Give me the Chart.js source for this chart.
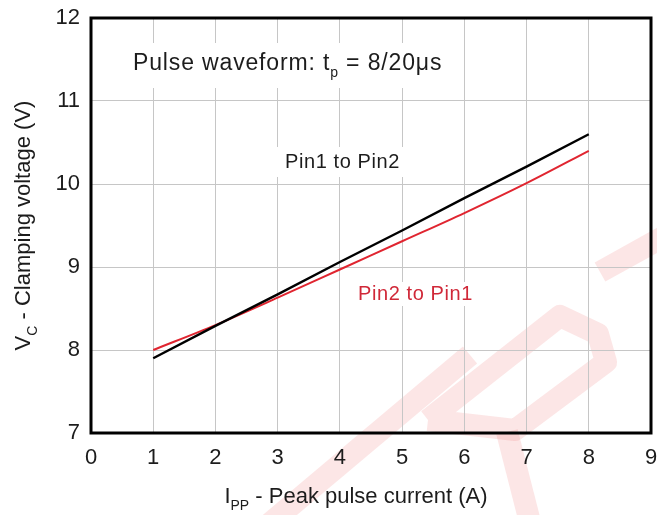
<!DOCTYPE html>
<html>
<head>
<meta charset="utf-8">
<script src="https://cdn.jsdelivr.net/npm/chart.js@4.4.1/dist/chart.umd.min.js"></script>
<style>
  html, body { margin: 0; padding: 0; background: #ffffff; }
  #wrap { width: 657px; height: 515px; }
</style>
</head>
<body>
<div id="wrap"><canvas id="c" width="657" height="515"></canvas></div>
<script>
// Peak pulse current (A) and clamping voltage (V) for both pin directions
const currentA = [1, 2, 3, 4, 5, 6, 7, 8];
const vcPin1ToPin2 = [7.9, 8.29, 8.67, 9.06, 9.44, 9.83, 10.21, 10.6];
const vcPin2ToPin1 = [8.0, 8.3, 8.63, 8.97, 9.31, 9.65, 10.01, 10.4];

const xRange = [0, 9];
const yRange = [7, 12];

const seriesNames = ['Pin1 to Pin2', 'Pin2 to Pin1'];
const seriesColors = ['#000000', '#e02530'];

const FONT = '"Liberation Sans", Arial, sans-serif';
const TEXT = '#1c1c1c';

function points(xs, ys) { return xs.map((x, i) => ({ x: x, y: ys[i] })); }

// Draw a run of text pieces, some of them set as subscripts
function setFont(ctx, p, size, spacing) {
  ctx.font = (p.sub ? Math.round(size * 0.62) : size) + 'px ' + FONT;
  ctx.letterSpacing = (spacing || 0) + 'px';
}
function richWidth(ctx, parts, size, spacing) {
  let w = 0;
  for (const p of parts) {
    setFont(ctx, p, size, spacing);
    w += ctx.measureText(p.t).width;
  }
  return w;
}
function drawRich(ctx, parts, x, y, size, color, spacing) {
  ctx.fillStyle = color;
  ctx.textBaseline = 'alphabetic';
  ctx.textAlign = 'left';
  let cx = x;
  for (const p of parts) {
    setFont(ctx, p, size, spacing);
    ctx.fillText(p.t, cx, y + (p.sub ? size * 0.3 : 0));
    cx += ctx.measureText(p.t).width;
  }
  ctx.letterSpacing = '0px';
}

// Faint background mark
const watermark = {
  id: 'watermark',
  beforeDraw(chart) {
    const ctx = chart.ctx;
    ctx.save();
    ctx.strokeStyle = 'rgba(230, 50, 50, 0.12)';
    ctx.lineWidth = 22;
    ctx.lineJoin = 'round';
    ctx.lineCap = 'butt';
    const strokes = [
      [[262, 530], [470, 355]],
      [[428, 420], [560, 316], [598, 334], [606, 362], [515, 430], [428, 420]],
      [[507, 432], [532, 530]],
      [[600, 272], [665, 236]]
    ];
    for (const s of strokes) {
      ctx.beginPath();
      ctx.moveTo(s[0][0], s[0][1]);
      for (let i = 1; i < s.length; i++) ctx.lineTo(s[i][0], s[i][1]);
      ctx.stroke();
    }
    ctx.restore();
  }
};

// Frame, in-plot notes and axis titles
const decor = {
  id: 'decor',
  afterDraw(chart) {
    const ctx = chart.ctx;
    const a = chart.chartArea;
    ctx.save();

    const notes = chart.options.plugins.decor.notes;
    for (const n of notes) {
      const w = richWidth(ctx, n.parts, n.size, n.spacing);
      ctx.fillStyle = '#ffffff';
      ctx.fillRect(n.x - n.pad[0], n.y - n.pad[1], w + n.pad[0] * 2, n.pad[1] + n.pad[2]);
      drawRich(ctx, n.parts, n.x, n.y, n.size, n.color, n.spacing);
    }

    // plot frame
    ctx.strokeStyle = '#000000';
    ctx.lineWidth = 3;
    ctx.strokeRect(a.left, a.top, a.right - a.left, a.bottom - a.top);

    // x axis title
    const xt = [{ t: 'I' }, { t: 'PP', sub: true }, { t: ' - Peak pulse current (A)' }];
    const xw = richWidth(ctx, xt, 22, 0);
    drawRich(ctx, xt, 356 - xw / 2, 503, 22, TEXT, 0);

    // y axis title, rotated
    const yt = [{ t: 'V' }, { t: 'C', sub: true }, { t: ' - Clamping voltage (V)' }];
    const yw = richWidth(ctx, yt, 22, 0);
    ctx.translate(30, (a.top + a.bottom) / 2);
    ctx.rotate(-Math.PI / 2);
    drawRich(ctx, yt, -yw / 2, 0, 22, TEXT, 0);

    ctx.restore();
  }
};

new Chart(document.getElementById('c'), {
  type: 'line',
  data: {
    datasets: [
      {
        label: seriesNames[0],
        data: points(currentA, vcPin1ToPin2),
        borderColor: seriesColors[0],
        borderWidth: 2.4,
        pointRadius: 0,
        tension: 0,
        fill: false
      },
      {
        label: seriesNames[1],
        data: points(currentA, vcPin2ToPin1),
        borderColor: seriesColors[1],
        borderWidth: 2,
        pointRadius: 0,
        cubicInterpolationMode: 'monotone',
        fill: false
      }
    ]
  },
  options: {
    responsive: false,
    animation: false,
    devicePixelRatio: 1,
    layout: { padding: { left: 0, top: 18, right: 6, bottom: 0 } },
    plugins: {
      legend: { display: false },
      tooltip: { enabled: false },
      decor: {
        notes: [
          { parts: [{ t: 'Pulse waveform: t' }, { t: 'p', sub: true }, { t: ' = 8/20μs' }],
            x: 133, y: 70, size: 23, spacing: 0.85, color: TEXT, pad: [14, 27, 18] },
          { parts: [{ t: seriesNames[0] }], x: 285, y: 168, size: 20, spacing: 0.6, color: TEXT, pad: [10, 21, 9] },
          { parts: [{ t: seriesNames[1] }], x: 358, y: 300, size: 20, spacing: 0.6, color: '#d02838', pad: [6, 18, 6] }
        ]
      }
    },
    scales: {
      x: {
        type: 'linear',
        min: xRange[0],
        max: xRange[1],
        afterFit(s) { s.height = 82; s.paddingLeft = 0; s.paddingRight = 6; },
        ticks: { stepSize: 1, color: TEXT, font: { family: FONT, size: 22 }, padding: 12, maxRotation: 0 },
        grid: { color: '#c6c6c6', lineWidth: 1, drawTicks: false },
        border: { display: false }
      },
      y: {
        type: 'linear',
        min: yRange[0],
        max: yRange[1],
        afterFit(s) { s.width = 91; s.paddingTop = 0; s.paddingBottom = 0; },
        ticks: { stepSize: 1, color: TEXT, font: { family: FONT, size: 22 }, padding: 11 },
        grid: { color: '#c6c6c6', lineWidth: 1, drawTicks: false },
        border: { display: false }
      }
    }
  },
  plugins: [watermark, decor]
});
</script>
</body>
</html>
